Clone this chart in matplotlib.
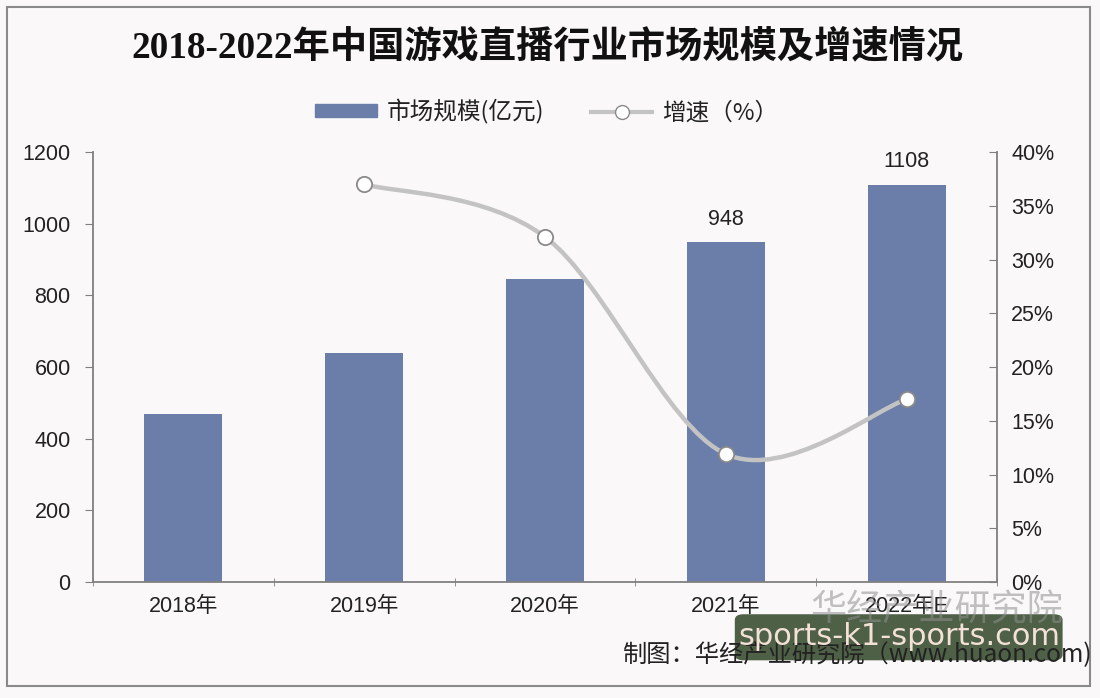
import numpy as np
import matplotlib
matplotlib.use("Agg")
import matplotlib.pyplot as plt
from matplotlib.path import Path
from matplotlib.patches import PathPatch, FancyBboxPatch, Rectangle
from matplotlib.lines import Line2D
from matplotlib.ticker import FuncFormatter, MultipleLocator

plt.rcParams['font.family'] = ['Liberation Sans', 'Noto Sans CJK SC', 'DejaVu Sans']
cjk = ['Noto Sans CJK SC', 'DejaVu Sans']

# data
years = ['2018年', '2019年', '2020年', '2021年', '2022年E']
market_size = [470, 640, 845, 948, 1108]      # 亿元
growth = [None, 37.0, 32.1, 11.9, 17.0]       # %
labelled = {3: '948', 4: '1108'}

bar_color = '#6a7ea9'
line_color = '#c3c3c3'
bg = '#faf8f8'


def smooth_path(xs, ys):
    # excel-style smoothed line: cubic bezier segments through the points
    pts = np.column_stack([xs, ys])
    n = len(pts)
    verts = [pts[0]]
    codes = [Path.MOVETO]
    for i in range(n - 1):
        p0 = pts[i - 1] if i > 0 else pts[i]
        p1, p2 = pts[i], pts[i + 1]
        p3 = pts[i + 2] if i + 2 < n else pts[i + 1]
        verts += [p1 + (p2 - p0) / 6, p2 - (p3 - p1) / 6, p2]
        codes += [Path.CURVE4] * 3
    return Path(verts, codes)


fig = plt.figure(figsize=(11, 6.98), dpi=100, facecolor=bg)
ax = fig.add_axes([0.0845, 0.1662, 0.822, 0.616])
ax.set_facecolor(bg)

x = np.arange(len(years))
ax.bar(x, market_size, width=0.43, color=bar_color, zorder=2)
for i, txt in labelled.items():
    ax.annotate(txt, (x[i], market_size[i]), xytext=(0, 9), textcoords='offset points',
                ha='center', va='bottom', fontsize=15.5, color='#222222')

ax.set_xlim(-0.5, len(years) - 0.5)
ax.set_ylim(0, 1200)
ax.yaxis.set_major_locator(MultipleLocator(200))
ax.set_xticks(x)
ax.set_xticklabels(years, fontsize=15.5, color='#222222')
ax.set_xticks(np.arange(-0.5, len(years)), minor=True)
ax.tick_params(axis='x', which='major', length=0, pad=10)
ax.tick_params(axis='x', which='minor', length=6, direction='inout', color='#808080')
ax.tick_params(axis='y', length=6, color='#808080', labelsize=15.5, labelcolor='#222222', pad=10)
for s in ['top', 'right']:
    ax.spines[s].set_visible(False)
for s in ['left', 'bottom']:
    ax.spines[s].set_color('#808080')
    ax.spines[s].set_linewidth(1.3)

ax2 = ax.twinx()
ax2.set_ylim(0, 40)
ax2.yaxis.set_major_locator(MultipleLocator(5))
ax2.yaxis.set_major_formatter(FuncFormatter(lambda v, p: f'{v:.0f}%'))
ax2.tick_params(axis='y', length=6, direction='in', color='#808080', labelsize=15.5,
                labelcolor='#222222', pad=10)
for s in ['top', 'left', 'bottom']:
    ax2.spines[s].set_visible(False)
ax2.spines['right'].set_color('#808080')
ax2.spines['right'].set_linewidth(1.3)

gx = [x[i] for i, g in enumerate(growth) if g is not None]
gy = [g for g in growth if g is not None]
ax2.add_patch(PathPatch(smooth_path(gx, gy), facecolor='none', edgecolor=line_color,
                        lw=3.2, zorder=3, capstyle='round'))
ax2.plot(gx, gy, linestyle='none', marker='o', markersize=11, markerfacecolor='white',
         markeredgecolor='#8a8a8a', markeredgewidth=1.3, zorder=4)

fig.suptitle('2018-2022年中国游戏直播行业市场规模及增速情况', x=0.498, y=0.931, va='center',
             fontsize=26.8, fontweight='bold', color='#111111',
             family=['Liberation Serif', 'Noto Sans CJK SC'])

handles = [Rectangle((0, 0), 1, 1, color=bar_color),
           Line2D([], [], color=line_color, lw=3, marker='o', markersize=10,
                  markerfacecolor='white', markeredgecolor='#8a8a8a')]
leg = fig.legend(handles, ['市场规模(亿元)', '增速（%）'], loc='center', bbox_to_anchor=(0.497, 0.84),
                 ncol=2, frameon=False, fontsize=17, handlelength=2.6, handleheight=0.45,
                 columnspacing=2.0, handletextpad=0.4, labelcolor='#222222')
for t in leg.get_texts():
    t.set_family(cjk)

fig.text(0.993, 0.061, '制图：华经产业研究院（www.huaon.com)', ha='right', va='center',
         fontsize=17.5, color='#222222', family=cjk)

# watermarks
fig.text(0.737, 0.125, '华经产业研究院', ha='left', va='center', fontsize=26,
         color='#909090', alpha=0.55, family=cjk)
fig.patches.append(FancyBboxPatch((0.668, 0.054), 0.298, 0.066, boxstyle='round,pad=0,rounding_size=0.008',
                                  transform=fig.transFigure, facecolor='#3b4f33', alpha=0.9,
                                  edgecolor='none'))
fig.text(0.818, 0.088, 'sports-k1-sports.com', ha='center', va='center', fontsize=22,
         family='DejaVu Sans', color='#f3e0d6')

# outer frame
fig.patches.append(Rectangle((0.0065, 0.017), 0.984, 0.973, transform=fig.transFigure,
                             facecolor='none', edgecolor='#8a8a8a', lw=1.5))

fig.savefig('out.png', dpi=100, facecolor=bg)
